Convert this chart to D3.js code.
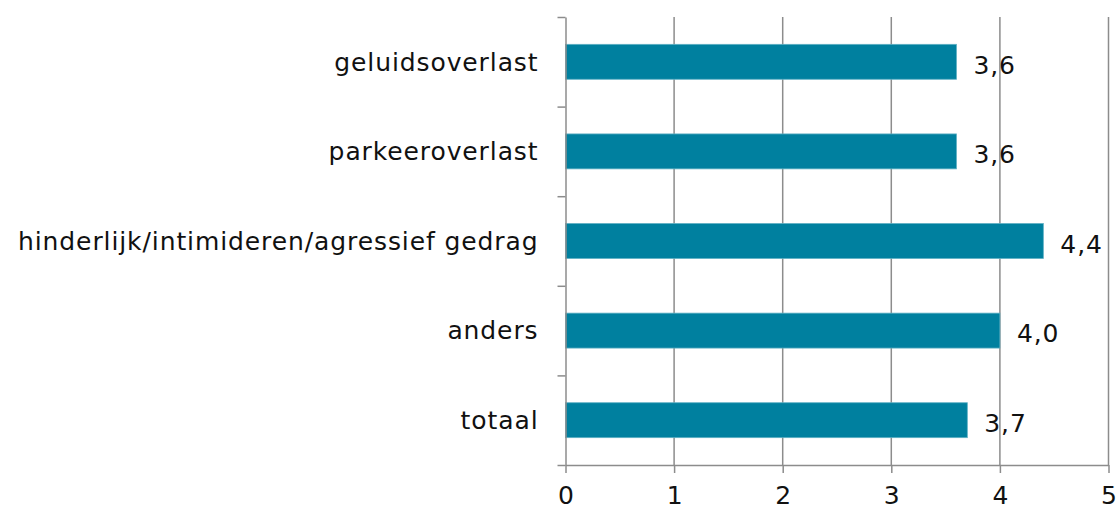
<!DOCTYPE html>
<html>
<head>
<meta charset="utf-8">
<script src="https://cdn.jsdelivr.net/npm/d3@7"></script>
<style>
  body { margin: 0; background: #fff; }
  text { font-family: "DejaVu Sans", Verdana, sans-serif; fill: #111; }
  .axis path, .axis line { stroke: #8c8c8c; stroke-width: 1.5; }
</style>
</head>
<body>
<script>
var categories = ["geluidsoverlast", "parkeeroverlast", "hinderlijk/intimideren/agressief gedrag", "anders", "totaal"];
var values     = [3.6, 3.6, 4.4, 4.0, 3.7];
var valueLabels = ["3,6", "3,6", "4,4", "4,0", "3,7"];
var xTicks     = [0, 1, 2, 3, 4, 5];

var width  = 1117;
var height = 511;
var margin = {left: 565.5, right: 8.5, top: 17, bottom: 46};
var fontSize = "25px";
var spacing  = "0.9px";

var svg = d3.select("body").append("svg").attr("width", width).attr("height", height);

var x = d3.scaleLinear().domain([0, 5]).range([margin.left, width - margin.right]);
var y = d3.scaleBand().domain(categories).range([margin.top, height - margin.bottom])
          .paddingInner(0.61).paddingOuter(0.305);
var yEdge = d3.scaleLinear().domain([0, categories.length]).range([height - margin.bottom, margin.top]);

// vertical gridlines
svg.append("g").selectAll("line").data(xTicks.slice(1)).enter().append("line")
   .attr("x1", function(d){return x(d);}).attr("x2", function(d){return x(d);})
   .attr("y1", margin.top).attr("y2", height - margin.bottom)
   .attr("stroke", "#8c8c8c").attr("stroke-width", 1.5);

// bars
svg.append("g").selectAll("rect").data(categories).enter().append("rect")
   .attr("x", x(0))
   .attr("y", function(d){return y(d);})
   .attr("width", function(d, i){return x(values[i]) - x(0);})
   .attr("height", y.bandwidth())
   .attr("fill", "#00809f")
   .attr("stroke", "#5fb0c4").attr("stroke-width", 0.8);

// value labels
svg.append("g").selectAll("text").data(categories).enter().append("text")
   .attr("x", function(d, i){return x(values[i]) + 17;})
   .attr("y", function(d){return y(d) + y.bandwidth() / 2 + 3;})
   .attr("dy", "0.35em")
   .style("font-size", fontSize).style("letter-spacing", spacing)
   .text(function(d, i){return valueLabels[i];});

// y axis with ticks at band edges
var yAxis = d3.axisLeft(yEdge).tickValues(d3.range(categories.length + 1)).tickSize(8).tickSizeOuter(0).tickFormat("");
svg.append("g").attr("class", "axis").attr("transform", "translate(" + x(0) + ",0)").call(yAxis);

// category labels
svg.append("g").selectAll("text").data(categories).enter().append("text")
   .attr("x", x(0) - 27)
   .attr("y", function(d){return y(d) + y.bandwidth() / 2;})
   .attr("dy", "0.35em")
   .attr("text-anchor", "end")
   .style("font-size", fontSize).style("letter-spacing", spacing)
   .text(function(d){return d;});

// x axis
var xAxis = d3.axisBottom(x).tickValues(xTicks).tickFormat(d3.format("d")).tickSize(8).tickSizeOuter(0).tickPadding(13);
var gx = svg.append("g").attr("class", "axis").attr("transform", "translate(0," + (height - margin.bottom) + ")").call(xAxis);
gx.selectAll("text").style("font-size", fontSize).attr("fill", "#111");
</script>
</body>
</html>
